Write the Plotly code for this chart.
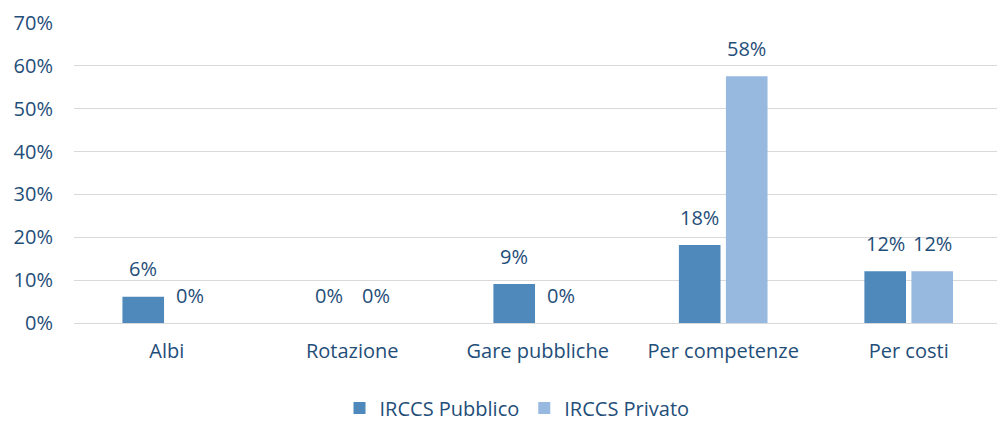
import plotly.graph_objects as go

categories = ["Albi", "Rotazione", "Gare pubbliche", "Per competenze", "Per costi"]
pubblico = [0.061, 0.0, 0.091, 0.182, 0.121]
privato = [0.0, 0.0, 0.0, 0.576, 0.121]
pub_labels = ["6%", "0%", "9%", "18%", "12%"]
priv_labels = ["0%", "0%", "0%", "58%", "12%"]
y_ticks = [0, 0.1, 0.2, 0.3, 0.4, 0.5, 0.6, 0.7]
y_ticktext = ["0%", "10%", "20%", "30%", "40%", "50%", "60%", "70%"]

FONT = "Open Sans"
TXT = "#1F4E79"
C_PUB = "#4F88BB"
C_PRIV = "#97B9DF"
FS = 20
BARGAP = 0.493
BARGROUPGAP = 0.115

fig = go.Figure()
fig.add_trace(go.Bar(name="IRCCS Pubblico", x=categories, y=pubblico, marker_color=C_PUB,
                     marker_line_width=0))
fig.add_trace(go.Bar(name="IRCCS Privato", x=categories, y=privato, marker_color=C_PRIV,
                     marker_line_width=0))

off = (1 - BARGAP) / 4
annotations = []
for i, c in enumerate(categories):
    annotations.append(dict(x=i - off, y=pubblico[i], xref="x", yref="y", text=pub_labels[i],
                            showarrow=False, yanchor="middle", yshift=28,
                            font=dict(family=FONT, size=FS, color=TXT)))
    annotations.append(dict(x=i + off, y=privato[i], xref="x", yref="y", text=priv_labels[i],
                            showarrow=False, yanchor="middle", yshift=28,
                            font=dict(family=FONT, size=FS, color=TXT)))

fig.update_layout(
    width=997, height=422,
    margin=dict(l=74, r=0, t=23, b=99, autoexpand=False),
    paper_bgcolor="white", plot_bgcolor="white",
    barmode="group", bargap=BARGAP, bargroupgap=BARGROUPGAP,
    font=dict(family=FONT, size=FS, color=TXT),
    annotations=annotations,
    legend=dict(orientation="h", x=(517 - 74) / 923, y=-(408 - 323) / 300,
                xanchor="center", yanchor="middle", itemwidth=30,
                bgcolor="rgba(0,0,0,0)",
                font=dict(family=FONT, size=FS, color=TXT)),
    xaxis=dict(type="category", range=[-0.5, 4.476], showgrid=False, zeroline=False,
               showline=False, ticks="", ticklabelstandoff=14,
               tickfont=dict(family=FONT, size=FS, color=TXT)),
    yaxis=dict(range=[0, 0.7], tickvals=y_ticks, ticktext=y_ticktext, showgrid=True,
               gridcolor="#D9D9D9", gridwidth=1.3, zeroline=True, zerolinecolor="#D9D9D9",
               zerolinewidth=1.3, showline=False, ticks="", ticklabelstandoff=20,
               tickfont=dict(family=FONT, size=FS, color=TXT)),
)

fig.write_html("out.html", config={"displayModeBar": False},
               post_script="document.body.style.margin='0';")
